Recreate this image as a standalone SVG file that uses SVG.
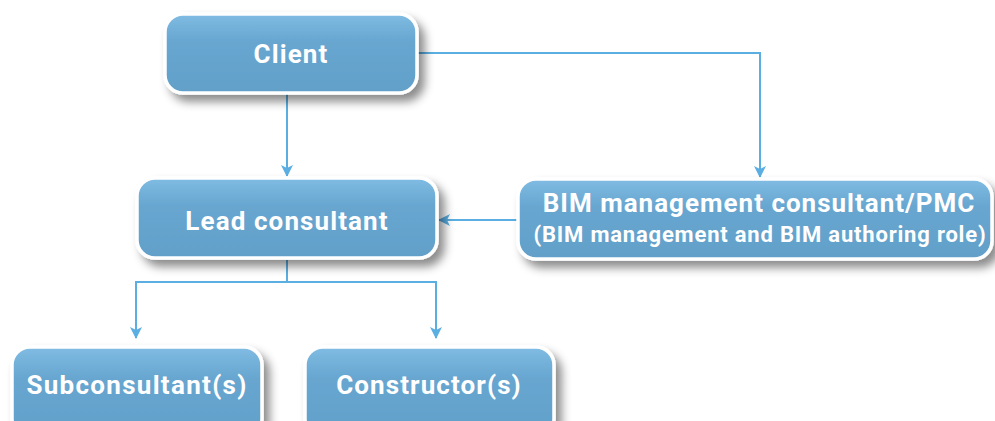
<svg xmlns="http://www.w3.org/2000/svg" width="995" height="421" viewBox="0 0 995 421">
<defs>
<linearGradient id="g" x1="0" y1="0" x2="0" y2="1">
<stop offset="0" stop-color="#80bce3"/>
<stop offset="0.35" stop-color="#67a6d0"/>
<stop offset="1" stop-color="#62a0c9"/>
</linearGradient>
<filter id="sh" x="-10%" y="-20%" width="125%" height="160%">
<feDropShadow dx="6" dy="7" stdDeviation="5" flood-color="#000" flood-opacity="0.45"/>
</filter>
<marker id="ah" viewBox="0 0 12 12" refX="11" refY="6" markerWidth="12" markerHeight="12" markerUnits="userSpaceOnUse" orient="auto">
<path d="M0,0 L12,6 L0,12 L3,6 Z" fill="#5aaee2"/>
</marker>
</defs>
<style>
.box{fill:url(#g);stroke:#fff;stroke-width:3.5;filter:url(#sh)}
.t{font-family:Roboto,"Liberation Sans",sans-serif;font-weight:bold;fill:#fff;text-anchor:middle;font-size:26px;letter-spacing:1.1px}
.c{fill:none;stroke:#5aaee2;stroke-width:2}
</style>
<rect width="995" height="421" fill="#fff"/>
<g id="connectors">
<path class="c" d="M287,94 V176" marker-end="url(#ah)"/>
<path class="c" d="M418,53 H760 V177" marker-end="url(#ah)"/>
<path class="c" d="M517,220 H439" marker-end="url(#ah)"/>
<path class="c" d="M287,260 V282"/>
<path class="c" d="M287,282 H136 V338" marker-end="url(#ah)"/>
<path class="c" d="M287,282 H436 V338" marker-end="url(#ah)"/>
</g>
<g id="client">
<rect class="box" x="165" y="14" width="252" height="79" rx="18"/>
<text class="t" x="291" y="63">Client</text>
</g>
<g id="lead">
<rect class="box" x="137" y="178" width="300" height="80" rx="18"/>
<text class="t" x="287" y="230">Lead consultant</text>
</g>
<g id="bim">
<rect class="box" x="518" y="179" width="474" height="80" rx="18"/>
<text class="t" x="759" y="212" style="letter-spacing:1px">BIM management consultant/PMC</text>
<text class="t" x="760" y="242" style="font-size:22px;letter-spacing:0.8px">(BIM management and BIM authoring role)</text>
</g>
<g id="sub">
<rect class="box" x="12" y="347" width="250" height="90" rx="18"/>
<text class="t" x="137" y="394" style="letter-spacing:1.3px">Subconsultant(s)</text>
</g>
<g id="constructor">
<rect class="box" x="305" y="347" width="249" height="90" rx="18"/>
<text class="t" x="429" y="394">Constructor(s)</text>
</g>
</svg>
